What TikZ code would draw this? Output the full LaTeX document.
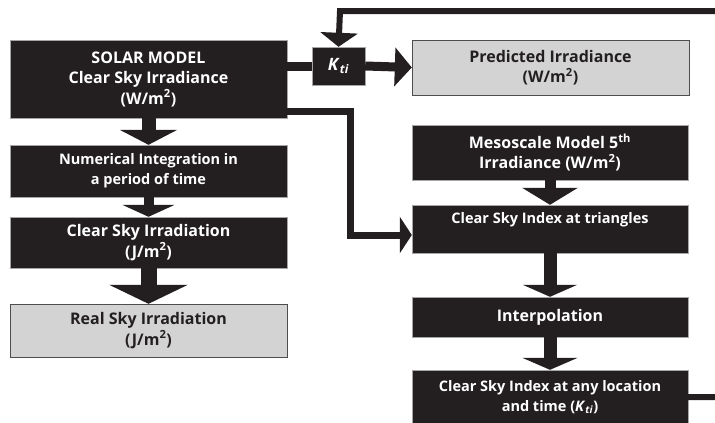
\documentclass[tikz,border=0pt]{standalone}
\usepackage{fontspec}
\setmainfont{Open Sans}
\usetikzlibrary{arrows.meta}

\definecolor{boxdark}{HTML}{231F20}
\definecolor{boxgray}{HTML}{D3D3D3}

\tikzset{
  darkbox/.style={draw=gray!70,fill=boxdark,text=white,font=\bfseries\fontsize{16}{20.5}\selectfont,align=center,inner sep=0pt},
  graybox/.style={draw=boxdark!80,fill=boxgray,text=boxdark,font=\bfseries\fontsize{16}{20.5}\selectfont,align=center,inner sep=0pt},
  smalltext/.style={font=\bfseries\fontsize{14.5}{20}\selectfont},
  flow/.style={draw=boxdark,color=boxdark},
}
\newcommand{\unitsq}[1]{(#1/m\textsuperscript{2})}
\newcommand{\kti}{\textit{K}\textsubscript{\textit{ti}}}

\begin{document}
\begin{tikzpicture}[x=1pt,y=-1pt]
\useasboundingbox (0,0) rectangle (715,423);
\clip (0,0) rectangle (715,423);

% left column
\path
    [minimum width=277pt]
    (148.5,79) node [darkbox,minimum height=78pt] (solar) {SOLAR MODEL\\ Clear Sky Irradiance\\ \unitsq{W}}
    (148.5,171) node [darkbox,smalltext,minimum height=52pt] (numint) {Numerical Integration in\\ a period of time}
    (148.5,242.5) node [darkbox,minimum height=51pt] (csirrad) {Clear Sky Irradiation\\ \unitsq{J}}
    (148.5,330.5) node [graybox,minimum height=53pt] (realsky) {Real Sky Irradiation\\ \unitsq{J}};

% top row
\path
    (338.5,66) node [darkbox,minimum width=53pt,minimum height=38pt,font=\bfseries\fontsize{17}{18}\selectfont] (kti) {\kti}
    (550.5,67.5) node [graybox,minimum width=277pt,minimum height=55pt] (pred) {Predicted Irradiance\\ \unitsq{W}};

% right column
\path
    [minimum width=276pt]
    (550,152.5) node [darkbox,minimum height=55pt] (meso) {Mesoscale Model 5\textsuperscript{th}\\ Irradiance \unitsq{W}}
    (550,229) node [darkbox,smalltext,text height=11pt,text depth=23pt,inner ysep=7pt] (csitri) {Clear Sky Index at triangles}
    (550,317) node [darkbox,minimum height=40pt] (interp) {Interpolation}
    (550,397) node [darkbox,smalltext,minimum height=54pt] (final) {Clear Sky Index at any location\\ and time (\kti)};

% vertical arrows
\draw [flow,line width=14pt,-{Triangle[width=57pt,length=15pt]}] (solar.south) -- (numint.north);
\draw [flow,line width=10pt,-{Triangle[width=52pt,length=12pt]}] (numint.south) -- (csirrad.north);
\draw [flow,line width=16pt,-{Triangle[width=78pt,length=19pt]}] (csirrad.south) -- (realsky.north);
\draw [flow,line width=11pt,-{Triangle[width=55pt,length=17pt]}] (meso.south) -- (csitri.north);
\draw [flow,line width=13pt,-{Triangle[width=54pt,length=12pt]}] (csitri.south) -- (interp.north);
\draw [flow,line width=13pt,-{Triangle[width=55pt,length=12pt]}] (interp.south) -- (final.north);

% clear sky index path
\draw [flow,line width=9pt] (kti.west -| solar.east) -- (kti.west);
\draw [flow,line width=9pt,-{Triangle[width=38pt,length=17pt]}] (kti.east) -- (pred.west);
\draw [flow,line width=7pt,-{Triangle[width=36pt,length=12pt]}]
    (solar.east) +(0,32) coordinate (sstart)
    ([yshift=-6pt]csitri.west) coordinate (send)
    (sstart) -| (350,235) |- (send);
\draw [flow,line width=6pt,-{Triangle[width=37pt,length=14pt]}]
    (final.east) -- (740,397) |- (340,11) -- (kti.north);
\end{tikzpicture}
\end{document}
